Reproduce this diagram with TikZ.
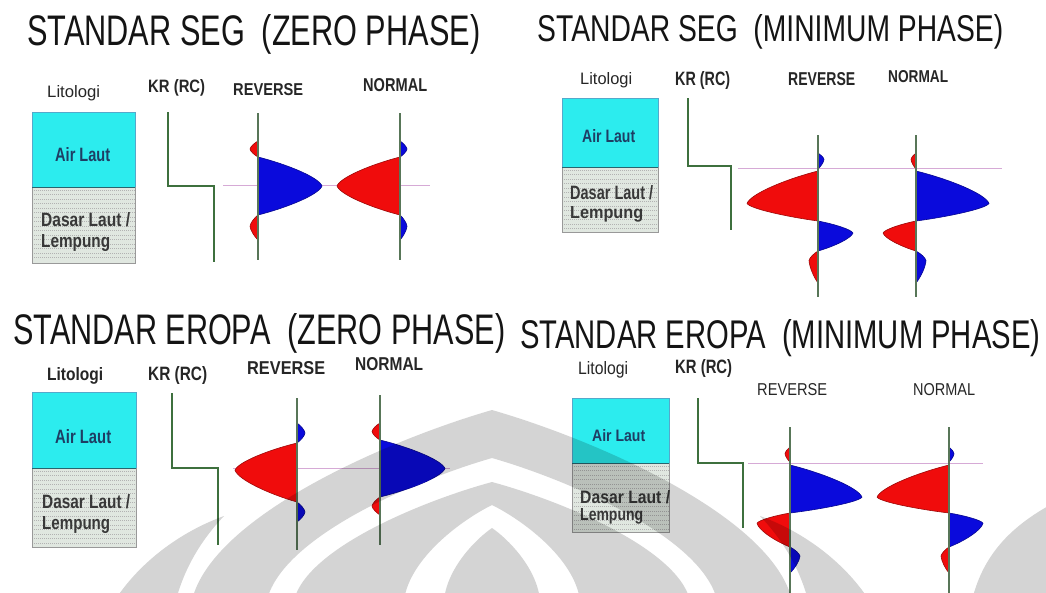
\documentclass[tikz,border=0pt]{standalone}
\usepackage{fontspec}
\setmainfont{Liberation Sans}
\usepackage{graphicx}

\definecolor{cyanfill}{RGB}{44,236,238}
\definecolor{lithofill}{RGB}{224,231,224}
\definecolor{krgreen}{RGB}{62,112,62}
\definecolor{trgreen}{RGB}{88,118,88}
\definecolor{pinkline}{RGB}{214,170,214}
\definecolor{wred}{RGB}{240,12,12}
\definecolor{wblue}{RGB}{10,10,220}
\definecolor{navy}{RGB}{30,62,100}
\definecolor{splitc}{RGB}{40,100,110}

% text squeezed into a given box: name, left x, right x, cap top y, baseline y, style, text
\newcommand{\lbl}[7]{%
  \pgfmathsetmacro\lbw{#3-#2}\pgfmathsetmacro\lbh{#5-#4}%
  \node[inner sep=0pt, anchor=base west, #6] (#1) at (#2,#5) {\resizebox{\lbw pt}{\lbh pt}{#7}};}

% one wavelet lobe: line x, start y, end y, amplitude (signed), tip position (0..1), colour
\newcommand{\lobe}[6]{%
  \pgfmathsetmacro\lbyt{#2+#5*(#3-#2)}%
  \pgfmathsetmacro\lbxt{#1+(#4)}%
  \pgfmathsetmacro\lbcax{#1+0.45*(#4)}%
  \pgfmathsetmacro\lbcay{#2+0.25*(\lbyt-#2)}%
  \pgfmathsetmacro\lbcbx{#1+0.95*(#4)}%
  \pgfmathsetmacro\lbcby{\lbyt-0.30*(\lbyt-#2)}%
  \pgfmathsetmacro\lbccy{\lbyt+0.30*(#3-\lbyt)}%
  \pgfmathsetmacro\lbcdy{#3-0.25*(#3-\lbyt)}%
  \filldraw[fill=#6, draw=#6!65!black, line width=0.6pt, line join=round]
    (#1,#2) .. controls (\lbcax,\lbcay) and (\lbcbx,\lbcby) .. (\lbxt,\lbyt)
            .. controls (\lbcbx,\lbccy) and (\lbcax,\lbcdy) .. (#1,#3) -- cycle;}

% lithology column: left x, right x, top y, boundary y, bottom y
\newcommand{\litho}[5]{%
  \fill[cyanfill] (#1,#3) rectangle (#2,#4);
  \fill[lithofill] (#1,#4) rectangle (#2,#5);
  \pgfmathsetmacro\lbsa{#4+3}\pgfmathsetmacro\lbsb{#4+7.5}\pgfmathsetmacro\lbse{#5-2}%
  \foreach \yy in {\lbsa,\lbsb,...,\lbse}
    \draw[gray!60, line width=0.5pt, dash pattern=on 1pt off 1pt] (#1,\yy) -- (#2,\yy);
  \draw[draw=cyan!60!gray, line width=0.6pt] (#1,#4) -- (#1,#3) -- (#2,#3) -- (#2,#4);
  \draw[draw=gray!80, line width=0.7pt] (#1,#4) -- (#1,#5) -- (#2,#5) -- (#2,#4);
  \draw[splitc, line width=1pt] (#1,#4) -- (#2,#4);}

% pointed-arch outline points for the emblem: prefix, centre x, apex y, half width at y=600
\newcommand{\ogivecoords}[4]{%
  \coordinate (#1a) at (#2,#3);
  \coordinate (#1l) at ({#2-#4},600);
  \coordinate (#1r) at ({#2+#4},600);
  \coordinate (#1l1) at ({#2-0.93*#4},{#3+0.55*(600-#3)});
  \coordinate (#1l2) at ({#2-0.33*#4},{#3+0.15*(600-#3)});
  \coordinate (#1r1) at ({#2+0.93*#4},{#3+0.55*(600-#3)});
  \coordinate (#1r2) at ({#2+0.33*#4},{#3+0.15*(600-#3)});}
\newcommand{\ogivepath}[1]{(#1l) .. controls (#1l1) and (#1l2) .. (#1a) .. controls (#1r2) and (#1r1) .. (#1r) -- cycle}

\begin{document}
\begin{tikzpicture}[x=1pt, y=-1pt,
  trace/.style={draw=trgreen, line width=1.1pt},
  krline/.style={draw=krgreen, line width=1.6pt, line join=miter},
  tieline/.style={draw=pinkline, line width=0.8pt},
  lab/.style={font=\bfseries, text=black!85},
  labreg/.style={text=black!85},
  airlab/.style={font=\bfseries, text=navy},
  soillab/.style={font=\bfseries, text=black!78},
  ttl/.style={text=black!92}]

\useasboundingbox (0,0) rectangle (1046,592);
\fill[white] (0,0) rectangle (1046,592);

\begin{scope}
\clip (0,0) rectangle (1046,592);

% ---------- titles ----------
\lbl{t1}{27}{480}{14}{45}{ttl}{STANDAR SEG\ \ (ZERO PHASE)}
\lbl{t2}{537}{1003}{14}{41}{ttl}{STANDAR SEG\ \ (MINIMUM PHASE)}
\lbl{t3}{13}{505}{313}{344}{ttl}{STANDAR EROPA\ \ (ZERO PHASE)}
\lbl{t4}{520}{1040}{319}{348}{ttl}{STANDAR EROPA\ \ (MINIMUM PHASE)}

% ---------- lithology columns ----------
\litho{32}{135}{112}{187}{263}
\litho{562}{658}{98}{167}{232}
\litho{32}{136}{392}{468}{547}
\litho{572}{669}{398}{463}{532}

% ---------- reflection coefficient steps ----------
\draw[krline] (168,112) -- (168,186) -- (214,186) -- (214,262);
\draw[krline] (688,98) -- (688,166) -- (731,166) -- (731,230);
\draw[krline] (172,393) -- (172,468) -- (218,468) -- (218,545);
\draw[krline] (698,398) -- (698,463) -- (743,463) -- (743,528);

% ---------- horizon ties ----------
\draw[tieline] (223,185) -- (430,185);
\draw[tieline] (738,168) -- (1002,168);
\draw[tieline] (233,468) -- (450,468);
\draw[tieline] (748,463) -- (983,463);

% ---------- SEG zero phase ----------
\lobe{258}{141}{157}{-8}{0.5}{wred}
\lobe{258}{157}{215}{64}{0.5}{wblue}
\lobe{258}{215}{240}{-8}{0.45}{wred}
\draw[trace] (258,113) -- (258,260);
\lobe{400}{141}{157}{7}{0.5}{wblue}
\lobe{400}{157}{215}{-63}{0.5}{wred}
\lobe{400}{215}{240}{7}{0.45}{wblue}
\draw[trace] (400,113) -- (400,260);

% ---------- SEG minimum phase ----------
\lobe{818}{153}{169}{6}{0.4}{wblue}
\lobe{818}{171}{221}{-71}{0.65}{wred}
\lobe{818}{221}{251}{35}{0.4}{wblue}
\lobe{818}{251}{283}{-9}{0.3}{wred}
\draw[trace] (818,135) -- (818,297);
\lobe{916}{153}{169}{-5}{0.4}{wred}
\lobe{916}{171}{221}{73}{0.65}{wblue}
\lobe{916}{221}{251}{-33}{0.4}{wred}
\lobe{916}{251}{283}{10}{0.3}{wblue}
\draw[trace] (916,135) -- (916,297);

% ---------- European zero phase ----------
\lobe{297}{423}{443}{8}{0.5}{wblue}
\lobe{297}{443}{502}{-62}{0.46}{wred}
\lobe{297}{502}{522}{8}{0.5}{wblue}
\draw[trace] (297,398) -- (297,550);
\lobe{380}{423}{440}{-8}{0.5}{wred}
\lobe{380}{440}{497}{65}{0.5}{wblue}
\lobe{380}{497}{515}{-8}{0.5}{wred}
\draw[trace] (380,395) -- (380,545);

% ---------- European minimum phase ----------
\lobe{790}{447}{462}{-5}{0.45}{wred}
\lobe{790}{465}{513}{72}{0.67}{wblue}
\lobe{790}{513}{547}{-33}{0.3}{wred}
\lobe{790}{547}{573}{10}{0.35}{wblue}
\draw[trace] (790,427) -- (790,595);
\lobe{949}{447}{462}{5}{0.45}{wblue}
\lobe{949}{465}{513}{-72}{0.67}{wred}
\lobe{949}{513}{547}{34}{0.3}{wblue}
\lobe{949}{547}{573}{-8}{0.35}{wred}
\draw[trace] (949,427) -- (949,595);

% ---------- column labels ----------
\lbl{lit1}{47}{100}{85}{97}{labreg}{Litologi}
\lbl{kr1}{148}{205}{79}{92}{lab}{KR (RC)}
\lbl{rev1}{233}{303}{83}{95}{lab}{REVERSE}
\lbl{nor1}{363}{427}{78}{91}{lab}{NORMAL}
\lbl{air1}{55}{110}{147}{161}{airlab}{Air Laut}
\lbl{das1}{41}{130}{212}{226}{soillab}{Dasar Laut /}
\lbl{lem1}{41}{110}{234}{247}{soillab}{Lempung}

\lbl{lit2}{580}{632}{72}{84}{labreg}{Litologi}
\lbl{kr2}{675}{730}{71}{85}{lab}{KR (RC)}
\lbl{rev2}{788}{855}{72}{85}{lab}{REVERSE}
\lbl{nor2}{888}{948}{70}{82}{lab}{NORMAL}
\lbl{air2}{582}{635}{129}{142}{airlab}{Air Laut}
\lbl{das2}{570}{653}{185}{199}{soillab}{Dasar Laut /}
\lbl{lem2}{570}{643}{206}{218}{soillab}{Lempung}

\lbl{lit3}{47}{103}{367}{380}{lab}{Litologi}
\lbl{kr3}{148}{207}{366}{380}{lab}{KR (RC)}
\lbl{rev3}{247}{325}{361}{374}{lab}{REVERSE}
\lbl{nor3}{355}{423}{357}{370}{lab}{NORMAL}
\lbl{air3}{55}{111}{429}{443}{airlab}{Air Laut}
\lbl{das3}{42}{130}{494}{508}{soillab}{Dasar Laut /}
\lbl{lem3}{42}{110}{516}{529}{soillab}{Lempung}

\lbl{lit4}{578}{628}{361}{374}{labreg}{Litologi}
\lbl{kr4}{675}{732}{359}{373}{lab}{KR (RC)}
\lbl{rev4}{757}{827}{383}{395}{labreg}{REVERSE}
\lbl{nor4}{913}{975}{383}{395}{labreg}{NORMAL}
\lbl{air4}{592}{645}{429}{441}{airlab}{Air Laut}
\lbl{das4}{580}{670}{490}{503}{soillab}{Dasar Laut /}
\lbl{lem4}{580}{643}{508}{520}{soillab}{Lempung}

% ---------- emblem watermark ----------
\ogivecoords{oa}{492}{410}{300}
\ogivecoords{ob}{492}{458}{225}
\ogivecoords{oc}{492}{482}{198}
\ogivecoords{od}{492}{505}{88}
\ogivecoords{oe}{492}{528}{48}
\fill[black, opacity=0.17, even odd rule]
  \ogivepath{oa} \ogivepath{ob} \ogivepath{oc} \ogivepath{od} \ogivepath{oe};
\fill[black, opacity=0.17]
  (115,600) .. controls (140,562) and (180,532) .. (224,516)
  .. controls (203,538) and (185,566) .. (176,600) -- cycle;
\fill[black, opacity=0.17]
  (869,600) .. controls (844,562) and (804,532) .. (760,516)
  .. controls (781,538) and (799,566) .. (808,600) -- cycle;
\fill[black, opacity=0.17]
  (972,600) .. controls (982,560) and (1005,530) .. (1050,505) -- (1050,600) -- cycle;
\end{scope}
\end{tikzpicture}
\end{document}
